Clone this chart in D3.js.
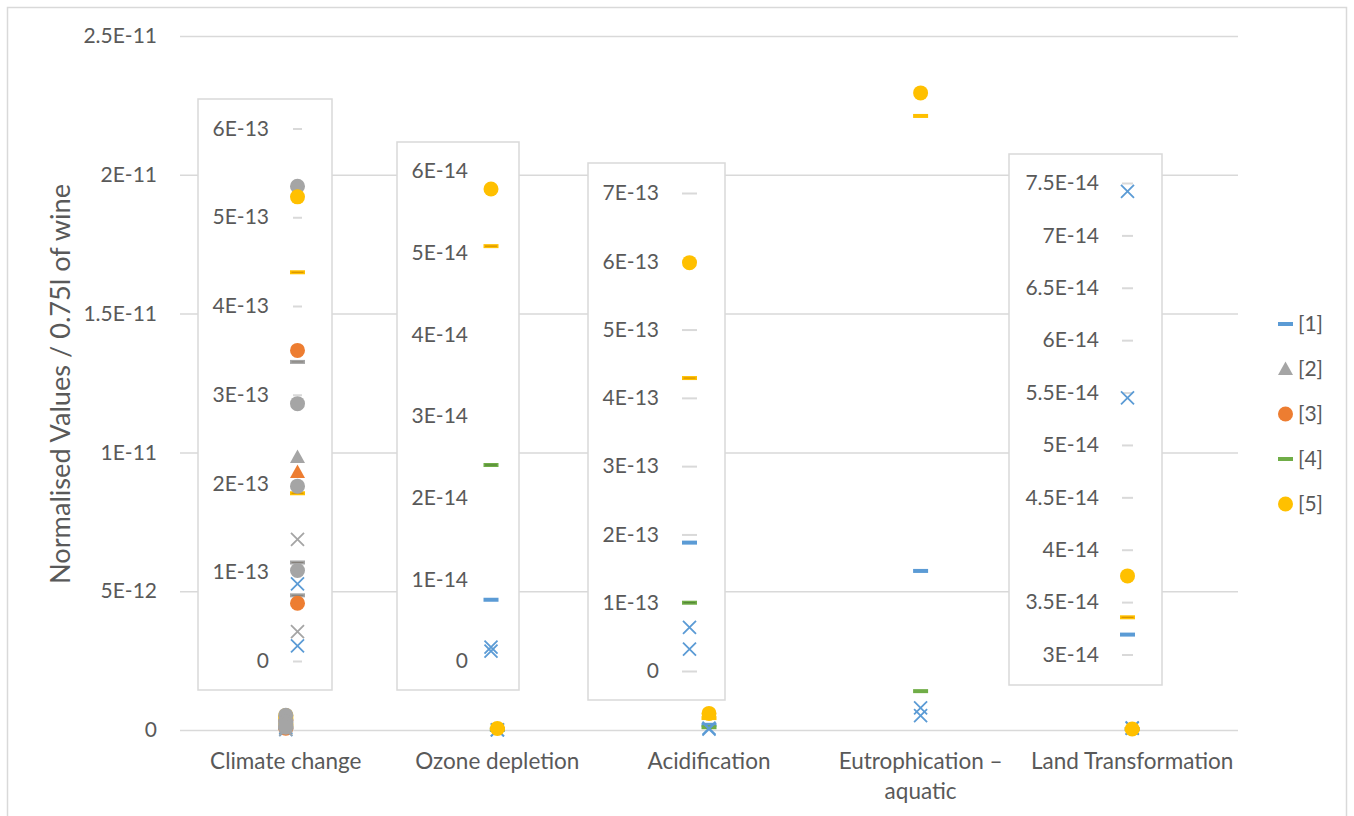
<!DOCTYPE html>
<html>
<head>
<meta charset="utf-8">
<script src="https://cdn.jsdelivr.net/npm/d3@7"></script>
<style>
  html, body { margin: 0; padding: 0; background: #fff; }
  svg { display: block; font-family: Lato, "Open Sans", sans-serif; }
</style>
</head>
<body>
<svg id="chart" width="1354" height="816"></svg>
<script>
// ---- categories and axis ticks ----
const categories = ["Climate change", "Ozone depletion", "Acidification", "Eutrophication \u2013 aquatic", "Land Transformation"];
const mainTicks = [0, 5e-12, 1e-11, 1.5e-11, 2e-11, 2.5e-11];
const climateTicks = [0, 1e-13, 2e-13, 3e-13, 4e-13, 5e-13, 6e-13];
const ozoneTicks = [0, 1e-14, 2e-14, 3e-14, 4e-14, 5e-14, 6e-14];
const acidTicks = [0, 1e-13, 2e-13, 3e-13, 4e-13, 5e-13, 6e-13, 7e-13];
const landTicks = [3e-14, 3.5e-14, 4e-14, 4.5e-14, 5e-14, 5.5e-14, 6e-14, 6.5e-14, 7e-14, 7.5e-14];

// ---- series values, one list of points per category ----
const ref1Dash      = [[], [0.75e-14], [1.88e-13], [5.73e-12], [3.19e-14]];
const ref2Triangle  = [[2.30e-13], [], [], [], []];
const ref3Circle    = [[3.50e-13, 0.65e-13], [], [], [], []];
const ref4Dash      = [[], [2.40e-14], [1.00e-13], [1.40e-12], []];
const ref5Circle    = [[5.23e-13], [5.78e-14], [5.98e-13], [2.295e-11], [3.75e-14]];
const blueCross     = [[0.87e-13, 0.17e-13], [0.17e-14, 0.12e-14], [0.64e-13, 0.32e-13], [0.80e-12, 0.52e-12], [7.42e-14, 5.45e-14]];
const greyCross     = [[1.37e-13, 0.33e-13], [], [], [], []];
const greyCircle    = [[5.35e-13, 2.90e-13, 1.97e-13, 1.02e-13], [], [], [], []];
const greyDash      = [[3.37e-13, 1.11e-13, 0.74e-13], [], [], [], []];
const orangeTriangle = [[2.13e-13], [], [], [], []];
const yellowDash    = [[4.38e-13, 1.89e-13], [5.08e-14], [4.29e-13], [2.212e-11], [3.355e-14]];

const C = { blue: "#5B9BD5", orange: "#ED7D31", grey: "#A5A5A5", yellow: "#FFC000", green: "#70AD47" };
const TEXT = "#595959", GRID = "#D9D9D9";

const series = {
  ref1Dash:       { values: ref1Dash, shape: "dash", color: C.blue },
  ref2Triangle:   { values: ref2Triangle, shape: "triangle", color: C.grey },
  ref3Circle:     { values: ref3Circle, shape: "circle", color: C.orange },
  ref4Dash:       { values: ref4Dash, shape: "dash", color: C.green, edge: "#4E7F35" },
  ref5Circle:     { values: ref5Circle, shape: "circle", color: C.yellow },
  blueCross:      { values: blueCross, shape: "cross", color: C.blue },
  greyCross:      { values: greyCross, shape: "cross", color: C.grey },
  greyCircle:     { values: greyCircle, shape: "circle", color: C.grey },
  greyDash:       { values: greyDash, shape: "dash", color: C.grey, edge: "#85807A" },
  orangeTriangle: { values: orangeTriangle, shape: "triangle", color: C.orange },
  yellowDash:     { values: yellowDash, shape: "dash", color: C.yellow, edge: "#D08A00" }
};
const orderMain = ["ref1Dash", "ref3Circle", "ref4Dash", "yellowDash", "greyDash", "orangeTriangle", "ref2Triangle",
                   "blueCross", "greyCross", "ref5Circle", "greyCircle"];
const orderInset = ["ref1Dash", "ref4Dash", "yellowDash", "greyDash", "orangeTriangle", "ref2Triangle",
                    "blueCross", "greyCross", "greyCircle", "ref3Circle", "ref5Circle"];

const legendItems = [
  { label: "[1]", shape: "dash", color: C.blue },
  { label: "[2]", shape: "triangle", color: C.grey },
  { label: "[3]", shape: "circle", color: C.orange },
  { label: "[4]", shape: "dash", color: C.green },
  { label: "[5]", shape: "circle", color: C.yellow }
];

// Excel "General" style scientific labels
function sci(v) {
  if (v === 0) return "0";
  const exp = Math.floor(Math.log10(v) + 1e-6);
  const m = +(v / Math.pow(10, exp)).toFixed(2);
  return m + "E" + (exp < 0 ? "-" : "+") + String(Math.abs(exp)).padStart(2, "0");
}

function marker(g, shape, color, x, y, edge, inset) {
  if (shape === "circle") {
    g.append("circle").attr("cx", x).attr("cy", y).attr("r", 7.5).attr("fill", color);
  } else if (shape === "dash") {
    g.append("rect").attr("x", x - 7.5).attr("y", y - 2).attr("width", 15).attr("height", 4).attr("fill", color);
    if (edge && inset) {
      g.append("line").attr("x1", x - 6).attr("x2", x + 6).attr("y1", y).attr("y2", y)
        .attr("stroke", edge).attr("stroke-width", 1);
    }
  } else if (shape === "triangle") {
    g.append("path").attr("d", `M${x},${y - 7.5}L${x + 7.5},${y + 6}L${x - 7.5},${y + 6}Z`).attr("fill", color);
  } else if (shape === "cross") {
    const s = 6.5;
    g.append("path").attr("d", `M${x - s},${y - s}L${x + s},${y + s}M${x + s},${y - s}L${x - s},${y + s}`)
      .attr("stroke", color).attr("stroke-width", 1.8).attr("fill", "none");
  }
}

const svg = d3.select("#chart");

// outer chart frame
svg.append("rect").attr("x", 7.5).attr("y", 7.5).attr("width", 1339).attr("height", 830)
  .attr("fill", "#fff").attr("stroke", GRID).attr("stroke-width", 1.5);

// ---- main plot ----
const x = d3.scaleBand().domain(categories).range([180, 1238]);
const y = d3.scaleLinear().domain([0, 2.5e-11]).range([730, 36]);

const yAxis = d3.axisLeft(y).tickValues(mainTicks).tickFormat(sci).tickSize(-(1238 - 180)).tickPadding(23);
const gy = svg.append("g").attr("transform", "translate(180,0)").call(yAxis);
gy.select(".domain").remove();
gy.selectAll(".tick line").attr("stroke", GRID).attr("stroke-width", 1.5);
gy.selectAll(".tick text").attr("fill", TEXT).attr("font-size", 21).attr("font-family", "Lato, sans-serif");

// category labels
const xLab = svg.append("g");
categories.forEach(c => {
  const cx = x(c) + x.bandwidth() / 2;
  const lines = c.startsWith("Eutrophication") ? ["Eutrophication \u2013", "aquatic"] : [c];
  lines.forEach((t, i) => {
    xLab.append("text").attr("x", cx).attr("y", 769 + i * 30).attr("text-anchor", "middle")
      .attr("fill", TEXT).attr("font-size", 22.5).text(t);
  });
});

// axis title
svg.append("text").attr("transform", "translate(70,384) rotate(-90)").attr("text-anchor", "middle")
  .attr("fill", TEXT).attr("font-size", 26).attr("textLength", 400).attr("lengthAdjust", "spacingAndGlyphs")
  .text("Normalised Values / 0.75l of wine");

// main markers
const gm = svg.append("g");
orderMain.forEach(k => {
  const s = series[k];
  s.values.forEach((pts, ci) => {
    const cx = x(categories[ci]) + x.bandwidth() / 2;
    pts.forEach(v => marker(gm, s.shape, s.color, cx, y(v), s.edge, false));
  });
});

// ---- zoomed insets ----
const insets = [
  { cat: 0, ticks: climateTicks, box: [198, 99, 332, 690], yr: [661, 128.5], labelX: 269, markX: 297.5, grid: [293, 302] },
  { cat: 1, ticks: ozoneTicks,   box: [397, 142, 519, 690], yr: [661, 171],   labelX: 468, markX: 491,   grid: null },
  { cat: 2, ticks: acidTicks,    box: [588, 163, 725, 700], yr: [671, 193],   labelX: 659, markX: 689.5, grid: [682, 697] },
  { cat: 4, ticks: landTicks,    box: [1009, 154, 1162, 685], yr: [654.5, 183], labelX: 1099, markX: 1127.5, grid: [1122, 1133] }
];

insets.forEach(ins => {
  const g = svg.append("g");
  const [x0, y0, x1, y1] = ins.box;
  g.append("rect").attr("x", x0).attr("y", y0).attr("width", x1 - x0).attr("height", y1 - y0)
    .attr("fill", "#fff").attr("stroke", GRID).attr("stroke-width", 1.5);
  const ys = d3.scaleLinear().domain(d3.extent(ins.ticks)).range(ins.yr);
  const gridLen = ins.grid ? ins.grid[1] - ins.grid[0] : 0;
  const ax = d3.axisLeft(ys).tickValues(ins.ticks).tickFormat(sci).tickSize(-gridLen)
    .tickPadding((ins.grid ? ins.grid[0] : ins.markX) - ins.labelX);
  const ga = g.append("g").attr("transform", `translate(${ins.grid ? ins.grid[0] : ins.markX},0)`).call(ax);
  ga.select(".domain").remove();
  ga.selectAll(".tick line").attr("stroke", ins.grid ? GRID : "none").attr("stroke-width", 2);
  ga.selectAll(".tick text").attr("fill", TEXT).attr("font-size", 21).attr("font-family", "Lato, sans-serif");
  orderInset.forEach(k => {
    const s = series[k];
    s.values[ins.cat].forEach(v => marker(g, s.shape, s.color, ins.markX, ys(v), s.edge, true));
  });
});

// ---- legend ----
const lg = svg.append("g");
legendItems.forEach((d, i) => {
  const cy = 324 + i * 45;
  marker(lg, d.shape, d.color, 1285.5, cy, null, false);
  lg.append("text").attr("x", 1298).attr("y", cy).attr("dy", "0.35em").attr("fill", TEXT)
    .attr("font-size", 21).text(d.label);
});
</script>
</body>
</html>
